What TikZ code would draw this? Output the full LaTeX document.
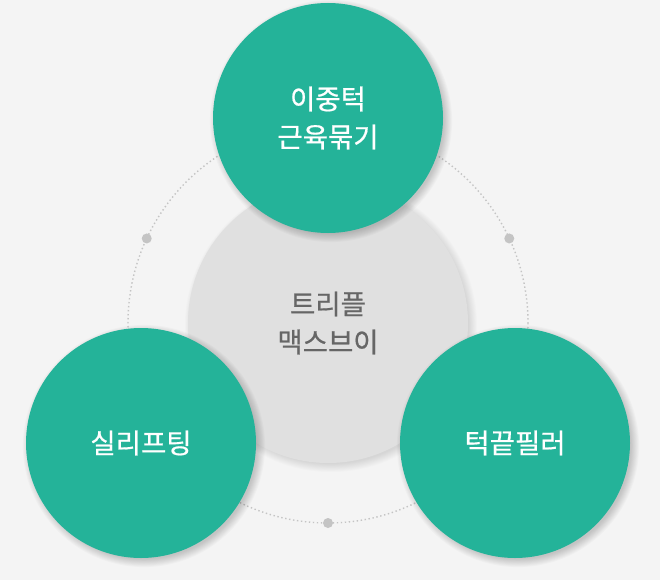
\documentclass[tikz,border=0pt]{standalone}
\usepackage{fontspec}
\usetikzlibrary{calc}
\newfontfamily\kr{Noto Sans CJK KR}[FakeBold=0.6]
\definecolor{bg}{HTML}{F4F4F4}
\definecolor{grn}{HTML}{24B399}
\definecolor{gcirc}{HTML}{E0E0E0}
\definecolor{dotc}{HTML}{C4C4C4}
\definecolor{txtg}{HTML}{666666}
\tikzset{
  greenball/.style={circle, fill=grn, minimum size=230pt, inner sep=0pt, text=white, font=\kr\fontsize{27.5}{38}\selectfont, align=center},
  grayball/.style={circle, fill=gcirc, minimum size=280pt, inner sep=0pt, text=txtg, font=\kr\fontsize{27.5}{38}\selectfont, align=center},
  smalldot/.style={circle, fill=dotc, minimum size=10pt, inner sep=0pt},
  ring/.style={draw=dotc, line width=1.4pt, dash pattern=on 1.4pt off 2.6pt},
}
\newcommand{\softshadow}[4]{%
  \foreach \k in {0,...,9}{%
    \fill[black, opacity=#4] ($(#1,#2)+(3,3)$) circle ({#3-2+\k*0.9});
  }}
\begin{document}
\begin{tikzpicture}[x=1pt,y=-1pt]
\fill[bg] (0,0) rectangle (660,580);
\useasboundingbox (0,0) rectangle (660,580);
\coordinate (c) at (328,323);
\draw[ring] (c) circle (200);
\node[smalldot] (d1) at ($(c)+(205:200)$) {};
\node[smalldot] (d2) at ($(c)+(335:200)$) {};
\node[smalldot] (d3) at ($(c)+(90:200)$) {};
% center gray
\softshadow{328}{323}{140}{0.012}
\node[grayball] (mid) at (c) {트리플\\맥스브이};
% green balls
\softshadow{328}{118}{115}{0.02}
\node[greenball] (top) at (328,118) {이중턱\\근육묶기};
\softshadow{141}{443}{115}{0.02}
\node[greenball] (left) at (141,443) {실리프팅};
\softshadow{515}{443}{115}{0.02}
\node[greenball] (right) at (515,443) {턱끝필러};
\end{tikzpicture}
\end{document}
